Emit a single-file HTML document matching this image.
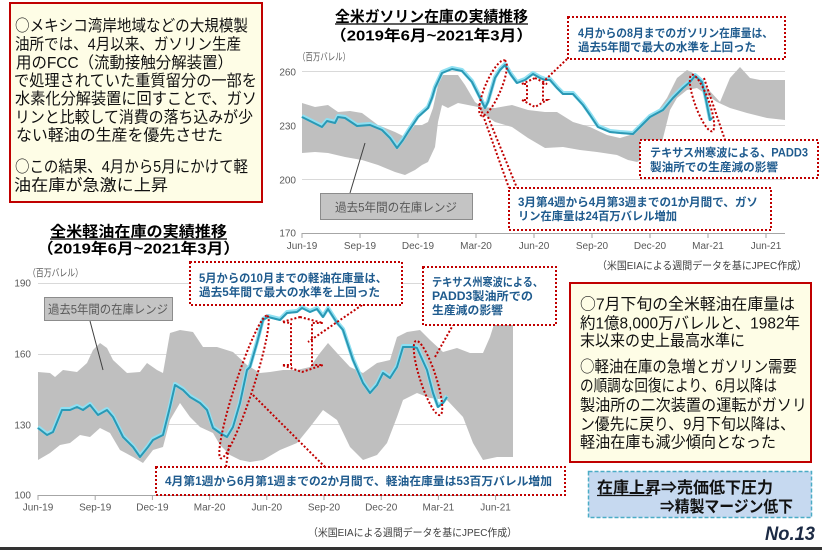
<!DOCTYPE html>
<html><head><meta charset="utf-8">
<style>
html,body{margin:0;padding:0;background:#fff;width:822px;height:550px;overflow:hidden}
svg{display:block;font-family:"Liberation Sans","Noto Sans CJK JP",sans-serif}
.tk{font-size:10px;fill:#595959}
.an{font-size:11.5px;font-weight:700;fill:#1f5b8e}
.pa{font-size:16px;fill:#111}
.cj{font-family:"Noto Sans CJK JP",sans-serif}
.rd{fill:none;stroke:#c00000;stroke-width:2;stroke-dasharray:2 2}
.src{font-size:10.5px;fill:#404040}
</style></head><body>
<svg width="822" height="550" viewBox="0 0 822 550">
<rect width="822" height="550" fill="#fff"/>

<!-- ===== TOP CHART ===== -->
<g stroke="#d9d9d9" stroke-width="1">
<line x1="302" y1="71.5" x2="785" y2="71.5"/>
<line x1="302" y1="125.5" x2="785" y2="125.5"/>
<line x1="302" y1="179.5" x2="785" y2="179.5"/>
</g>
<polygon fill="#bfbfbf" points="302,103 315,107 328,105 338,112 350,111 362,113 378,125 395,132 405,137 415,125 422,125 428,122 433,108 438,85 443,75 458,75 465,85 475,102 482,107 495,108 512,105 528,110 545,112 557,112 573,122 590,127 607,135 620,138 630,135 640,128 657,112 667,98 677,78 687,70 697,75 707,88 720,102 730,78 740,67 750,78 760,80 773,80 785,80 785,120 767,118 747,113 730,108 717,102 707,95 697,88 687,90 677,98 670,110 665,130 660,150 652,155 645,158 637,162 628,160 617,155 597,152 580,150 563,147 545,148 528,138 512,127 495,122 482,113 478,107 468,105 458,103 448,108 442,105 438,122 435,147 428,162 422,165 415,170 405,175 395,172 378,165 362,160 345,157 328,153 315,152 302,153"/>
<polyline fill="none" stroke="#8fe0f2" stroke-width="4" stroke-linejoin="round" points="302,116 312,121 322,126 327,120 335,122 338,116 345,117 357,125 370,124 382,129 390,137 397,147 403,139 408,131 418,116 428,107 432,97 435,87 442,72 452,68 462,70 472,81 480,97 485,107 488,101 495,77 500,69 505,64 511,74 517,82 525,79 533,73 540,77 545,79 550,79 557,87 563,93 573,93 583,104 590,114 598,126 610,131 620,132 633,133 642,124 650,116 663,109 673,97 683,87 690,81 695,75 702,81 706,99 710,119 712,117"/>
<polyline fill="none" stroke="#2b98b4" stroke-width="2" stroke-linejoin="round" points="302,117 312,122 322,127 327,121 335,123 338,117 345,118 357,126 370,125 382,130 390,138 397,148 403,140 408,132 418,117 428,108 432,98 435,88 442,73 452,69 462,71 472,82 480,98 485,108 488,102 495,78 500,70 505,65 511,75 517,83 525,80 533,74 540,78 545,80 550,80 557,88 563,94 573,94 583,105 590,115 598,127 610,132 620,133 633,134 642,125 650,117 663,110 673,98 683,88 690,82 695,76 702,82 706,100 710,120 712,118"/>
<line x1="302" y1="233.5" x2="785" y2="233.5" stroke="#a6a6a6"/>
<g stroke="#a6a6a6">
<line x1="302" y1="233" x2="302" y2="238"/><line x1="360" y1="233" x2="360" y2="238"/><line x1="418" y1="233" x2="418" y2="238"/><line x1="476" y1="233" x2="476" y2="238"/><line x1="534" y1="233" x2="534" y2="238"/><line x1="592" y1="233" x2="592" y2="238"/><line x1="650" y1="233" x2="650" y2="238"/><line x1="708" y1="233" x2="708" y2="238"/><line x1="766" y1="233" x2="766" y2="238"/>
</g>
<g class="tk" text-anchor="end">
<text x="296" y="75.3">260</text><text x="296" y="129.3">230</text><text x="296" y="183.6">200</text><text x="296" y="236.6">170</text>
</g>
<g class="tk" text-anchor="middle">
<text x="302" y="249">Jun-19</text><text x="360" y="249">Sep-19</text><text x="418" y="249">Dec-19</text><text x="476" y="249">Mar-20</text><text x="534" y="249">Jun-20</text><text x="592" y="249">Sep-20</text><text x="650" y="249">Dec-20</text><text x="708" y="249">Mar-21</text><text x="766" y="249">Jun-21</text>
</g>
<text class="tk" x="298" y="60.7" textLength="52" lengthAdjust="spacingAndGlyphs">（百万バレル）</text>

<!-- titles top -->
<text x="335" y="21.5" font-size="15" font-weight="700" textLength="193" lengthAdjust="spacingAndGlyphs">全米ガソリン在庫の実績推移</text>
<line x1="335" y1="24" x2="528" y2="24" stroke="#000" stroke-width="1.3"/>
<text x="330" y="40.5" font-size="15" font-weight="700" textLength="203" lengthAdjust="spacingAndGlyphs">（2019年6月~2021年3月）</text>

<!-- legend top -->
<line x1="350" y1="193" x2="365" y2="143" stroke="#404040" stroke-width="1"/>
<rect x="320.5" y="193.5" width="152" height="26" fill="#c4c4c4" stroke="#8c8c8c"/>
<text x="335" y="211.5" font-size="12" fill="#595959" textLength="122" lengthAdjust="spacingAndGlyphs">過去5年間の在庫レンジ</text>

<!-- red dotted shapes top -->
<ellipse class="rd" cx="493" cy="88" rx="30" ry="8" transform="rotate(-67 493 88)"/>
<line class="rd" x1="479" y1="104" x2="509" y2="188"/>
<line class="rd" x1="488" y1="117" x2="517" y2="188"/>
<polygon class="rd" points="535,78 547,84 543,84 543,100 547,100 535,107 522,100 527,100 527,84 522,84"/>
<line class="rd" x1="567" y1="59" x2="541" y2="84"/>
<ellipse class="rd" cx="702" cy="103" rx="30" ry="7" transform="rotate(70 702 103)"/>
<line class="rd" x1="704" y1="78" x2="725" y2="140"/>

<!-- annotation boxes top -->
<rect class="rd" x="568" y="17" width="217" height="42" style="fill:#fff"/>
<text class="an" x="578" y="37.2" textLength="195" lengthAdjust="spacingAndGlyphs">4月からの8月までのガソリン在庫量は、</text>
<text class="an" x="578" y="51.2" textLength="178" lengthAdjust="spacingAndGlyphs">過去5年間で最大の水準を上回った</text>

<rect class="rd" x="640" y="140" width="178" height="38" style="fill:#fff"/>
<text class="an" x="650" y="156.7" textLength="158" lengthAdjust="spacingAndGlyphs">テキサス州寒波による、PADD3</text>
<text class="an" x="650" y="171.2" textLength="128" lengthAdjust="spacingAndGlyphs">製油所での生産減の影響</text>

<rect class="rd" x="509" y="188" width="262" height="42" style="fill:#fff"/>
<text class="an" x="518" y="206.2" textLength="240" lengthAdjust="spacingAndGlyphs">3月第4週から4月第3週までの1か月間で、ガソ</text>
<text class="an" x="518" y="220.2" textLength="159" lengthAdjust="spacingAndGlyphs">リン在庫量は24百万バレル増加</text>

<text class="src" x="597" y="269" textLength="210" lengthAdjust="spacingAndGlyphs">（米国EIAによる週間データを基にJPEC作成）</text>

<!-- ===== TOP-LEFT TEXT BOX ===== -->
<rect x="10" y="3" width="252" height="199" fill="#fefde6" stroke="#c00000" stroke-width="2"/>
<text class="pa" x="15" y="31" textLength="233" lengthAdjust="spacingAndGlyphs"><tspan class="cj">○</tspan>メキシコ湾岸地域などの大規模製</text>
<text class="pa" x="15" y="49.5" textLength="226" lengthAdjust="spacingAndGlyphs">油所では、4月以来、ガソリン生産</text>
<text class="pa" x="16" y="68" textLength="217" lengthAdjust="spacingAndGlyphs">用のFCC（流動接触分解装置）</text>
<text class="pa" x="14" y="86" textLength="243" lengthAdjust="spacingAndGlyphs">で処理されていた重質留分の一部を</text>
<text class="pa" x="15" y="104" textLength="242" lengthAdjust="spacingAndGlyphs">水素化分解装置に回すことで、ガソ</text>
<text class="pa" x="15" y="122.5" textLength="238" lengthAdjust="spacingAndGlyphs">リンと比較して消費の落ち込みが少</text>
<text class="pa" x="16" y="140.5" textLength="207" lengthAdjust="spacingAndGlyphs">ない軽油の生産を優先させた</text>
<text class="pa" x="15" y="172" textLength="233" lengthAdjust="spacingAndGlyphs"><tspan class="cj">○</tspan>この結果、4月から5月にかけて軽</text>
<text class="pa" x="14" y="190.5" textLength="154" lengthAdjust="spacingAndGlyphs">油在庫が急激に上昇</text>

<!-- ===== BOTTOM CHART ===== -->
<g stroke="#d9d9d9" stroke-width="1">
<line x1="38" y1="283.5" x2="513" y2="283.5"/>
<line x1="38" y1="354.5" x2="513" y2="354.5"/>
<line x1="38" y1="424.5" x2="513" y2="424.5"/>
</g>
<polygon fill="#bfbfbf" points="38,372 50,373 55,377 63,370 77,372 87,363 93,350 100,343 107,348 113,360 127,373 140,372 147,363 157,370 163,373 170,333 180,330 193,332 203,347 217,347 233,352 247,365 260,373 270,372 283,370 297,370 310,367 320,353 328,343 337,353 350,367 363,373 377,363 390,360 397,337 407,332 420,330 430,340 443,352 457,348 470,353 483,353 490,337 497,315 502,295 506,275 513,270 513,457 497,457 483,460 473,443 463,417 447,400 430,398 417,393 403,400 397,417 387,443 377,455 363,460 350,447 337,420 323,410 310,427 297,443 280,450 263,460 250,462 240,460 230,455 220,445 213,433 200,427 190,417 180,403 170,420 163,447 153,450 143,463 133,457 120,450 110,433 100,428 90,437 80,435 70,443 60,445 50,453 38,460"/>
<polyline fill="none" stroke="#8fe0f2" stroke-width="4" stroke-linejoin="round" points="38,427 47,434 53,431 62,409 70,409 77,406 83,409 90,404 98,414 107,409 113,416 123,436 133,446 140,456 148,446 153,439 163,434 170,406 175,384 183,389 190,396 200,402 207,409 213,427 220,432 227,436 233,426 240,402 247,369 250,366 257,342 263,319 268,316 280,319 287,312 297,311 302,307 310,311 317,308 323,316 328,308 337,322 343,329 353,359 363,382 370,392 377,384 383,372 390,377 397,366 403,346 413,346 417,347 427,369 433,392 438,406 443,402 447,396"/>
<polyline fill="none" stroke="#2b98b4" stroke-width="2" stroke-linejoin="round" points="38,428 47,435 53,432 62,410 70,410 77,407 83,410 90,405 98,415 107,410 113,417 123,437 133,447 140,457 148,447 153,440 163,435 170,407 175,385 183,390 190,397 200,403 207,410 213,428 220,433 227,437 233,427 240,403 247,370 250,367 257,343 263,320 268,317 280,320 287,313 297,312 302,308 310,312 317,309 323,317 328,309 337,323 343,330 353,360 363,383 370,393 377,385 383,373 390,378 397,367 403,347 413,347 417,348 427,370 433,393 438,407 443,403 447,397"/>
<line x1="38" y1="495.5" x2="513" y2="495.5" stroke="#a6a6a6"/>
<g stroke="#a6a6a6">
<line x1="38" y1="495" x2="38" y2="500"/><line x1="95.2" y1="495" x2="95.2" y2="500"/><line x1="152.4" y1="495" x2="152.4" y2="500"/><line x1="209.6" y1="495" x2="209.6" y2="500"/><line x1="266.8" y1="495" x2="266.8" y2="500"/><line x1="324" y1="495" x2="324" y2="500"/><line x1="381.2" y1="495" x2="381.2" y2="500"/><line x1="438.4" y1="495" x2="438.4" y2="500"/><line x1="495.6" y1="495" x2="495.6" y2="500"/>
</g>
<g class="tk" text-anchor="end">
<text x="31" y="286.6">190</text><text x="31" y="357.6">160</text><text x="31" y="428.6">130</text><text x="31" y="498.6">100</text>
</g>
<g class="tk" text-anchor="middle">
<text x="38" y="510.5">Jun-19</text><text x="95.2" y="510.5">Sep-19</text><text x="152.4" y="510.5">Dec-19</text><text x="209.6" y="510.5">Mar-20</text><text x="266.8" y="510.5">Jun-20</text><text x="324" y="510.5">Sep-20</text><text x="381.2" y="510.5">Dec-20</text><text x="438.4" y="510.5">Mar-21</text><text x="495.6" y="510.5">Jun-21</text>
</g>
<text class="tk" x="28" y="276.7" textLength="55" lengthAdjust="spacingAndGlyphs">（百万バレル）</text>

<!-- titles bottom -->
<text x="50" y="236.5" font-size="15" font-weight="700" textLength="177" lengthAdjust="spacingAndGlyphs">全米軽油在庫の実績推移</text>
<line x1="50" y1="239" x2="227" y2="239" stroke="#000" stroke-width="1.3"/>
<text x="37" y="253.5" font-size="15" font-weight="700" textLength="203" lengthAdjust="spacingAndGlyphs">（2019年6月~2021年3月）</text>

<!-- legend bottom -->
<line x1="90" y1="321" x2="103" y2="370" stroke="#404040" stroke-width="1"/>
<rect x="44.5" y="297.5" width="128" height="23" fill="#c4c4c4" stroke="#8c8c8c"/>
<text x="48" y="313.5" font-size="12" fill="#595959" textLength="120" lengthAdjust="spacingAndGlyphs">過去5年間の在庫レンジ</text>

<!-- red dotted shapes bottom -->
<ellipse class="rd" cx="244" cy="387" rx="75" ry="9" transform="rotate(-72 244 387)"/>
<line class="rd" x1="253" y1="395" x2="325" y2="467"/>
<line class="rd" x1="229" y1="445" x2="226" y2="467"/>
<polygon class="rd" points="300,317 323,323 312,323 312,365 323,365 302,372 282,365 291,365 291,323 282,322"/>
<line class="rd" x1="362" y1="305" x2="308" y2="342"/>
<ellipse class="rd" cx="428" cy="378" rx="39" ry="8" transform="rotate(72 428 378)"/>
<line class="rd" x1="435" y1="357" x2="453" y2="325"/>

<!-- annotation boxes bottom -->
<rect class="rd" x="190" y="262" width="212" height="43" style="fill:#fff"/>
<text class="an" x="199" y="282.2" textLength="188" lengthAdjust="spacingAndGlyphs">5月からの10月までの軽油在庫量は、</text>
<text class="an" x="199" y="296.2" textLength="181" lengthAdjust="spacingAndGlyphs">過去5年間で最大の水準を上回った</text>

<rect class="rd" x="423" y="267" width="133" height="58" style="fill:#fff"/>
<text class="an" x="432" y="286.2" textLength="111" lengthAdjust="spacingAndGlyphs">テキサス州寒波による、</text>
<text class="an" x="432" y="300.2" textLength="101" lengthAdjust="spacingAndGlyphs">PADD3製油所での</text>
<text class="an" x="432" y="314.2" textLength="71" lengthAdjust="spacingAndGlyphs">生産減の影響</text>

<rect class="rd" x="156" y="467" width="409" height="28" style="fill:#fff"/>
<text class="an" x="165" y="485.2" textLength="387" lengthAdjust="spacingAndGlyphs">4月第1週から6月第1週までの2か月間で、軽油在庫量は53百万バレル増加</text>

<text class="src" x="308" y="536" textLength="209" lengthAdjust="spacingAndGlyphs">（米国EIAによる週間データを基にJPEC作成）</text>

<!-- ===== RIGHT TEXT BOX ===== -->
<rect x="570" y="283" width="241" height="179" fill="#fefde6" stroke="#c00000" stroke-width="2"/>
<text class="pa" x="580" y="309.3" textLength="215" lengthAdjust="spacingAndGlyphs"><tspan class="cj">○</tspan>7月下旬の全米軽油在庫量は</text>
<text class="pa" x="580" y="328.7" textLength="220" lengthAdjust="spacingAndGlyphs">約1億8,000万バレルと、1982年</text>
<text class="pa" x="580" y="346" textLength="165" lengthAdjust="spacingAndGlyphs">末以来の史上最高水準に</text>
<text class="pa" x="580" y="372" textLength="217" lengthAdjust="spacingAndGlyphs"><tspan class="cj">○</tspan>軽油在庫の急増とガソリン需要</text>
<text class="pa" x="580" y="391" textLength="197" lengthAdjust="spacingAndGlyphs">の順調な回復により、6月以降は</text>
<text class="pa" x="580" y="410.3" textLength="227" lengthAdjust="spacingAndGlyphs">製油所の二次装置の運転がガソリ</text>
<text class="pa" x="580" y="429.3" textLength="215" lengthAdjust="spacingAndGlyphs">ン優先に戻り、9月下旬以降は、</text>
<text class="pa" x="580" y="447.7" textLength="196" lengthAdjust="spacingAndGlyphs">軽油在庫も減少傾向となった</text>

<!-- blue box -->
<rect x="588.5" y="471.5" width="223" height="46" fill="#c6d9f0" stroke="#4bacc6" stroke-width="1.5" stroke-dasharray="4 2"/>
<text x="597" y="493" font-size="16" font-weight="700" fill="#111" textLength="176" lengthAdjust="spacingAndGlyphs">在庫上昇⇒売価低下圧力</text>
<line x1="597" y1="495.5" x2="652" y2="495.5" stroke="#111" stroke-width="1.3"/>
<text x="660" y="512" font-size="16" font-weight="700" fill="#111" textLength="133" lengthAdjust="spacingAndGlyphs">⇒精製マージン低下</text>

<text x="765" y="540" font-size="19" font-weight="700" font-style="italic" fill="#1c2a44" textLength="50" lengthAdjust="spacingAndGlyphs">No.13</text>

<rect x="0" y="547" width="822" height="3" fill="#333"/>
</svg>
</body></html>
